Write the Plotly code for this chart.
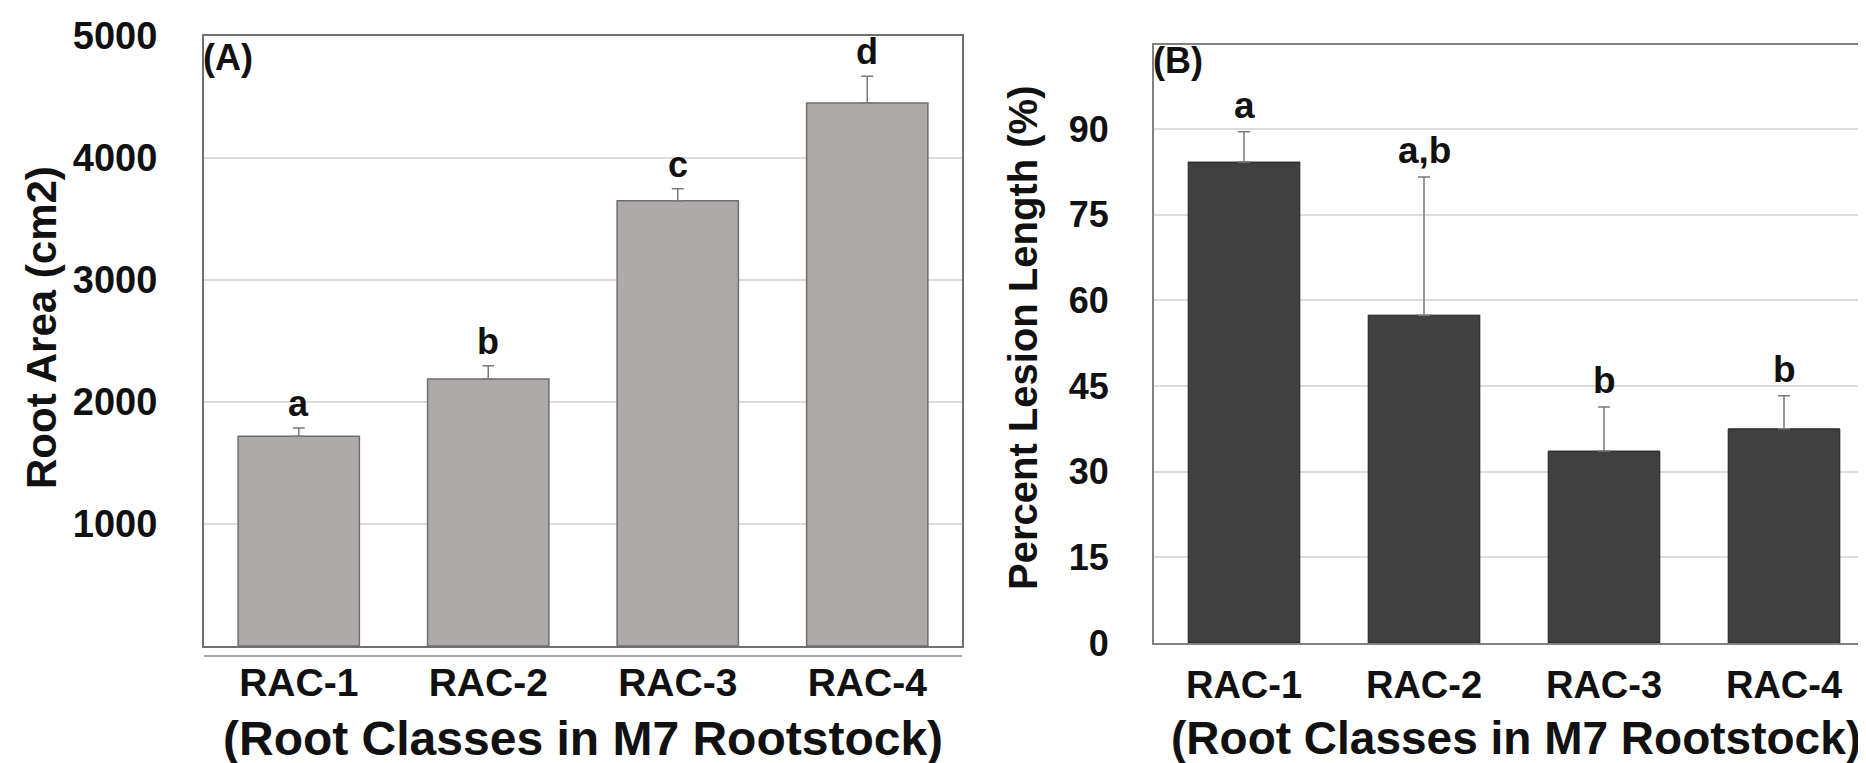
import plotly.graph_objects as go

categories = ["RAC-1", "RAC-2", "RAC-3", "RAC-4"]

root_area = [1719, 2189, 3650, 4451]
root_area_err = [68, 109, 98, 219]
root_area_letters = ["a", "b", "c", "d"]

lesion_pct = [84.2, 57.4, 33.6, 37.5]
lesion_err = [5.3, 24.2, 7.7, 5.8]
lesion_letters = ["a", "a,b", "b", "b"]

yticks_a = [1000, 2000, 3000, 4000, 5000]
yticks_b = [0, 15, 30, 45, 60, 75, 90]

x_title = "(Root Classes in M7 Rootstock)"
y_title_a = "Root Area (cm2)"
y_title_b = "Percent Lesion Length (%)"

FONT = "Liberation Sans, Arial, sans-serif"
W, H = 1866, 763

def px_x(p):
    return p / W

def px_y(p):
    return (H - p) / H

fig = go.Figure()

fig.add_trace(go.Bar(
    x=categories, y=root_area, xaxis="x", yaxis="y",
    width=0.64,
    marker=dict(color="#aeaaaa", line=dict(color="#6e6e6e", width=1.5)),
    error_y=dict(type="data", array=root_area_err, symmetric=False,
                 arrayminus=[0] * 4, color="#7a7a7a", thickness=1.5, width=6),
    showlegend=False, hoverinfo="skip",
))

fig.add_trace(go.Bar(
    x=categories, y=lesion_pct, xaxis="x2", yaxis="y2",
    width=0.62,
    marker=dict(color="#404040", line=dict(color="#222222", width=1)),
    error_y=dict(type="data", array=lesion_err, symmetric=False,
                 arrayminus=[0] * 4, color="#7a7a7a", thickness=1.5, width=6),
    showlegend=False, hoverinfo="skip",
))

def bold(size):
    return dict(family=FONT, size=size, color="#111111", weight="bold")

fig.update_layout(
    width=W, height=H,
    margin=dict(l=0, r=0, t=0, b=0, autoexpand=False),
    paper_bgcolor="white", plot_bgcolor="white",
    xaxis=dict(
        domain=[px_x(196), px_x(954)], anchor="y", automargin=False,
        range=[-0.5, 3.5], showgrid=False,
        showline=True, mirror=True, linecolor="#707070", linewidth=2,
        ticks="", tickfont=bold(39), ticklabelstandoff=1,
    ),
    yaxis=dict(
        domain=[px_y(638), px_y(28)], anchor="x", automargin=False,
        range=[0, 5000], tickvals=yticks_a,
        showgrid=True, gridcolor="#dcdcdc", gridwidth=1.5,
        showline=True, mirror=True, linecolor="#707070", linewidth=2,
        ticks="", tickfont=bold(38), ticklabelstandoff=37,
        zeroline=False,
    ),
    xaxis2=dict(
        domain=[px_x(1146), 1.0], anchor="y2", automargin=False,
        range=[-0.5, 3.5], showgrid=False,
        showline=True, mirror=True, linecolor="#808080", linewidth=2,
        ticks="", tickfont=bold(38), ticklabelstandoff=7,
    ),
    yaxis2=dict(
        domain=[px_y(635), px_y(37)], anchor="x2", automargin=False,
        range=[0, 104.7], tickvals=yticks_b,
        showgrid=True, gridcolor="#dcdcdc", gridwidth=1.5,
        showline=True, mirror=False, linecolor="#808080", linewidth=2,
        ticks="", tickfont=bold(36), ticklabelstandoff=36, zeroline=False,
    ),
)

# extra light baseline under panel A
fig.add_shape(type="line", xref="x domain", yref="paper",
              x0=0, x1=1, y0=px_y(648), y1=px_y(648),
              line=dict(color="#a8a8a8", width=2))

annotations = []
# significance letters
for c, v, e, t in zip(categories, root_area, root_area_err, root_area_letters):
    annotations.append(dict(x=c, y=v + e, xref="x", yref="y", text=t,
                            showarrow=False, yanchor="bottom", yshift=2, font=bold(36)))
for c, v, e, t in zip(categories, lesion_pct, lesion_err, lesion_letters):
    annotations.append(dict(x=c, y=v + e, xref="x2", yref="y2", text=t,
                            showarrow=False, yanchor="bottom", yshift=4, font=bold(37)))

# panel labels
annotations.append(dict(x=-0.004, y=0.985, xref="x domain", yref="y domain", text="(A)",
                        showarrow=False, xanchor="left", yanchor="top", yshift=10,
                        font=bold(36)))
annotations.append(dict(x=-0.004, y=0.985, xref="x2 domain", yref="y2 domain", text="(B)",
                        showarrow=False, xanchor="left", yanchor="top", yshift=16,
                        font=bold(36)))

# axis titles
annotations.append(dict(x=px_x(575), y=px_y(730), xref="paper", yref="paper", text=x_title,
                        showarrow=False, xanchor="center", yanchor="middle", font=bold(48)))
annotations.append(dict(x=px_x(1508), y=px_y(730), xref="paper", yref="paper", text=x_title,
                        showarrow=False, xanchor="center", yanchor="middle", font=bold(46)))
annotations.append(dict(x=px_x(33), y=px_y(320), xref="paper", yref="paper", text=y_title_a,
                        showarrow=False, xanchor="center", yanchor="middle", textangle=-90,
                        font=bold(42)))
annotations.append(dict(x=px_x(1015), y=px_y(330), xref="paper", yref="paper", text=y_title_b,
                        showarrow=False, xanchor="center", yanchor="middle", textangle=-90,
                        font=bold(40)))

fig.update_layout(annotations=annotations)

fig.write_html("out.html")
